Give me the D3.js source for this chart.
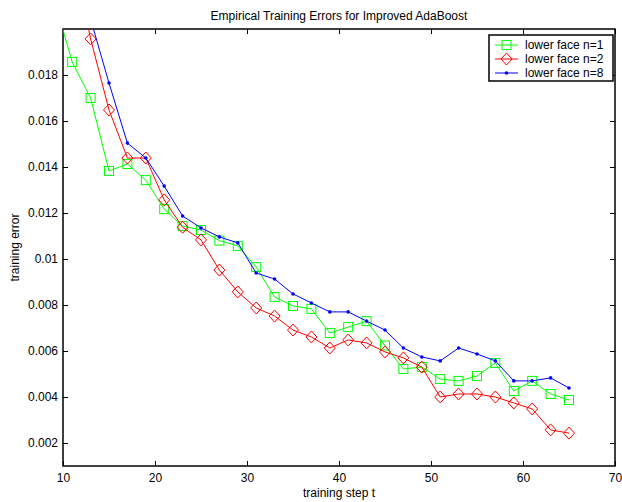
<!DOCTYPE html>
<html lang="en">
<head>
    <meta charset="UTF-8">
    <title>Empirical Training Errors for Improved AdaBoost</title>
    <script src="https://d3js.org/d3.v7.min.js"></script>
    <style>
        body { margin: 0; background: #fff; font-family: "Liberation Sans", Arial, sans-serif; }
        .tick text { font-size: 12px; fill: #000; }
        .series { fill: none; stroke-width: 1; }
    </style>
</head>
<body>
    <svg width="622" height="502"></svg>
    <script>
        // training steps (odd steps, a few lie above the visible window and get clipped)
        const steps = [9, 11, 13, 15, 17, 19, 21, 23, 25, 27, 29, 31, 33, 35, 37, 39,
                       41, 43, 45, 47, 49, 51, 53, 55, 57, 59, 61, 63, 65];

        const n1 = [0.02135, 0.01857, 0.0170, 0.01383, 0.01413, 0.01343, 0.01217, 0.01143, 0.01126, 0.0108,
                    0.01057, 0.00965, 0.00835, 0.00796, 0.00783, 0.00678, 0.00704, 0.0073, 0.00624, 0.00522,
                    0.0053, 0.00478, 0.0047, 0.00491, 0.00548, 0.00426, 0.0047, 0.00413, 0.00387];
        const n2 = [null, 0.0235, 0.01957, 0.01648, 0.01439, 0.01439, 0.01257, 0.01138, 0.01083, 0.00952,
                    0.00857, 0.00787, 0.00752, 0.00691, 0.00661, 0.00613, 0.00648, 0.00635, 0.00596, 0.0057,
                    0.0053, 0.0040, 0.00413, 0.00413, 0.0040, 0.00374, 0.00348, 0.00257, 0.00243];
        const n8 = [null, null, 0.02043, 0.01765, 0.01504, 0.01439, 0.01317, 0.01187, 0.01135, 0.01096,
                    0.0107, 0.00939, 0.00913, 0.00848, 0.00809, 0.0077, 0.0077, 0.0073, 0.00691, 0.00613,
                    0.00574, 0.00557, 0.00613, 0.00587, 0.00557, 0.0047, 0.0047, 0.00483, 0.00439];

        const xTicks = [10, 20, 30, 40, 50, 60, 70];
        const yTicks = [0.002, 0.004, 0.006, 0.008, 0.01, 0.012, 0.014, 0.016, 0.018];

        const series = [
            { name: "lower face n=1", values: n1, color: "#00ff00", marker: "square" },
            { name: "lower face n=2", values: n2, color: "#ff0000", marker: "diamond" },
            { name: "lower face n=8", values: n8, color: "#0000ff", marker: "dot" }
        ];

        const svg = d3.select("svg");
        const pLeft = 63, pRight = 615, pTop = 29, pBottom = 466;

        const x = d3.scaleLinear().domain([10, 70]).range([pLeft, pRight]);
        const y = d3.scaleLinear().domain([0.001, 0.02]).range([pBottom, pTop]);

        svg.append("clipPath").attr("id", "plot")
            .append("rect")
            .attr("x", pLeft).attr("y", pTop)
            .attr("width", pRight - pLeft).attr("height", pBottom - pTop);

        // axes with inward ticks on all four sides
        const fmt = d => String(d);
        svg.append("g").attr("transform", `translate(0,${pBottom})`)
            .call(d3.axisBottom(x).tickValues(xTicks).tickFormat(fmt).tickSizeInner(-5).tickSizeOuter(0).tickPadding(7));
        svg.append("g").attr("transform", `translate(0,${pTop})`)
            .call(d3.axisTop(x).tickValues(xTicks).tickFormat("").tickSizeInner(-5).tickSizeOuter(0));
        svg.append("g").attr("transform", `translate(${pLeft},0)`)
            .call(d3.axisLeft(y).tickValues(yTicks).tickFormat(fmt).tickSizeInner(-5).tickSizeOuter(0).tickPadding(5));
        svg.append("g").attr("transform", `translate(${pRight},0)`)
            .call(d3.axisRight(y).tickValues(yTicks).tickFormat("").tickSizeInner(-5).tickSizeOuter(0));
        svg.selectAll(".domain").remove();
        svg.selectAll(".tick line").attr("stroke", "#000");

        svg.append("rect")
            .attr("x", pLeft).attr("y", pTop)
            .attr("width", pRight - pLeft).attr("height", pBottom - pTop)
            .attr("fill", "none").attr("stroke", "#000").attr("stroke-width", 1.5);

        function drawMarker(g, type, color, cx, cy) {
            if (type === "square") {
                g.append("rect").attr("x", cx - 4.5).attr("y", cy - 4.5)
                    .attr("width", 9).attr("height", 9)
                    .attr("fill", "none").attr("stroke", color);
            } else if (type === "diamond") {
                g.append("path")
                    .attr("d", `M${cx},${cy - 6}L${cx + 5.5},${cy}L${cx},${cy + 6}L${cx - 5.5},${cy}Z`)
                    .attr("fill", "none").attr("stroke", color);
            } else {
                g.append("circle").attr("cx", cx).attr("cy", cy).attr("r", 1.8).attr("fill", color);
            }
        }

        const plot = svg.append("g").attr("clip-path", "url(#plot)");
        const line = d3.line()
            .defined(d => d[1] != null)
            .x(d => x(d[0]))
            .y(d => y(d[1]));

        series.forEach(s => {
            const pts = steps.map((t, i) => [t, s.values[i]]);
            plot.append("path").datum(pts)
                .attr("class", "series")
                .attr("stroke", s.color)
                .attr("d", line);
            const mg = plot.append("g");
            pts.filter(p => p[1] != null).forEach(p => drawMarker(mg, s.marker, s.color, x(p[0]), y(p[1])));
        });

        // legend
        const lg = svg.append("g");
        lg.append("rect").attr("x", 489).attr("y", 35).attr("width", 124).attr("height", 46)
            .attr("fill", "#fff").attr("stroke", "#000").attr("stroke-width", 1.5);
        series.forEach((s, i) => {
            const ly = 45 + i * 14;
            lg.append("line").attr("x1", 495).attr("x2", 518).attr("y1", ly).attr("y2", ly)
                .attr("stroke", s.color);
            drawMarker(lg, s.marker, s.color, 506.5, ly);
            lg.append("text").attr("x", 525).attr("y", ly + 4)
                .attr("font-size", 12).text(s.name);
        });

        // titles
        svg.append("text").attr("x", (pLeft + pRight) / 2).attr("y", 20)
            .attr("text-anchor", "middle").attr("font-size", 12)
            .text("Empirical Training Errors for Improved AdaBoost");
        svg.append("text").attr("x", (pLeft + pRight) / 2).attr("y", 497)
            .attr("text-anchor", "middle").attr("font-size", 12)
            .text("training step t");
        svg.append("text")
            .attr("transform", `translate(19,${(pTop + pBottom) / 2}) rotate(-90)`)
            .attr("text-anchor", "middle").attr("font-size", 12)
            .text("training error");
    </script>
</body>
</html>
